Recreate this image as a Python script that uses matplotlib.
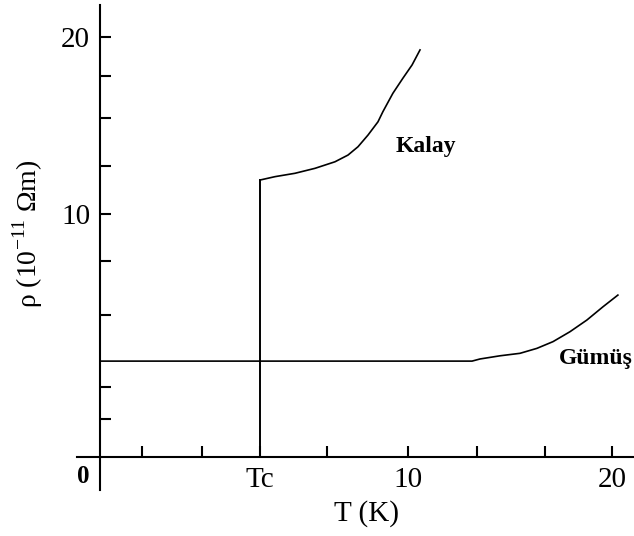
import matplotlib.pyplot as plt

plt.rcParams['font.family'] = ['Liberation Serif', 'DejaVu Serif']
plt.rcParams['mathtext.fontset'] = 'custom'
plt.rcParams['mathtext.rm'] = 'Liberation Serif'

# --- values (T in K, rho in 1e-11 Ohm m) ---
T0, RHO0 = -5.1, -3.73          # where the drawn axes cross
tc = 2.75

kalay_T = [2.75, 3.48, 4.46, 5.44, 6.42, 7.06, 7.55, 8.04, 8.53, 8.77,
           9.26, 9.75, 10.20, 10.59]
kalay_rho = [11.92, 12.11, 12.30, 12.58, 12.95, 13.33, 13.80, 14.46, 15.21,
             15.78, 16.82, 17.67, 18.42, 19.27]

gumus_T = [-5.1, 13.14, 13.53, 14.51, 15.49, 16.32, 17.11, 17.94, 18.77,
           19.56, 20.29]
gumus_rho = [1.69, 1.69, 1.81, 1.99, 2.13, 2.41, 2.79, 3.35, 4.01, 4.76, 5.42]

xticks = [-3.04, -0.10, 2.75, 6.03, 10.0, 13.38, 16.72, 20.0]
xlabels = ["", "", "Tc", "", "10", "", "", "20"]
yticks = [20.0, 17.80, 15.42, 12.71, 10.0, 7.34, 4.29, 0.23, -1.58]
ylabels = ["20", "", "", "", "10", "", "", "", ""]

fig = plt.figure(figsize=(6.34, 5.36), dpi=100)
ax = fig.add_axes([0, 0, 1, 1])
ax.set_xlim(-10.0, 21.08)
ax.set_ylim(-8.19, 22.09)

# axes drawn as crossing lines, a bit past the origin
for side in ["top", "right"]:
    ax.spines[side].set_visible(False)
ax.spines["left"].set_position(("data", T0))
ax.spines["bottom"].set_position(("data", RHO0))
ax.spines["left"].set_bounds(-5.59, 21.81)
ax.spines["bottom"].set_bounds(-6.23, 21.08)
ax.spines["left"].set_linewidth(1.5)
ax.spines["bottom"].set_linewidth(1.5)

ax.set_xticks(xticks, xlabels)
ax.set_yticks(yticks, ylabels)
ax.tick_params(axis="both", direction="in", length=8, width=1.5, labelsize=21)
ax.tick_params(axis="x", pad=7)
ax.tick_params(axis="y", pad=7)

# curves
ax.plot([tc, tc], [RHO0, kalay_rho[0]], color="black", lw=1.4)
ax.plot(kalay_T, kalay_rho, color="black", lw=1.2)
ax.plot(gumus_T, gumus_rho, color="black", lw=1.2)

ax.text(10.88, 13.79, "Kalay", fontsize=17, fontweight="bold",
        ha="center", va="center")
ax.text(17.4, 2.43, "Gümüş", fontsize=17, fontweight="bold",
        ha="left", va="top")
ax.text(-5.59, -4.18, "0", fontsize=18, fontweight="bold",
        ha="right", va="top")

ax.set_xlabel("T (K)", fontsize=21)
ax.xaxis.set_label_coords(366 / 634, 1 - 500 / 536)
ax.set_ylabel(r"ρ (10$^{\mathrm{-11}}$ Ωm)", fontsize=20)
ax.yaxis.set_label_coords(45 / 634, 1 - 234 / 536)

fig.savefig("out.png", dpi=100)
